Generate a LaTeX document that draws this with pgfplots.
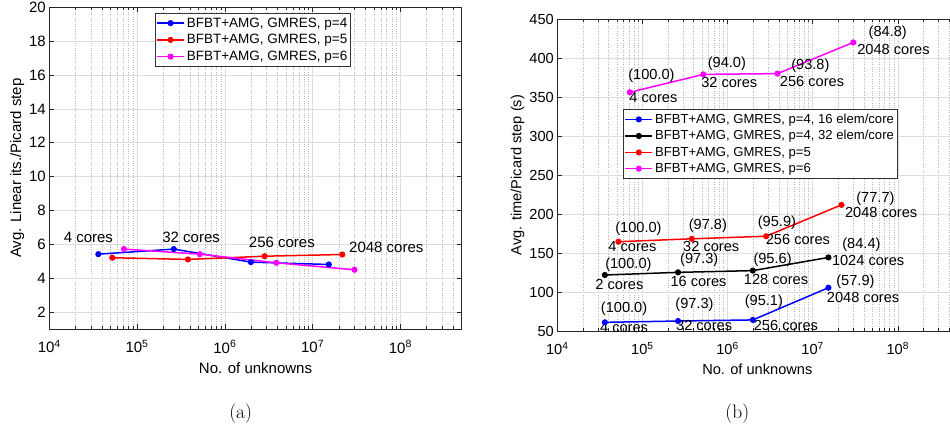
\documentclass[border=0pt]{standalone}
\usepackage{fontspec}
\usepackage{pgfplots}
\pgfplotsset{compat=1.18}
\newfontfamily\arial{Liberation Sans}
\newcommand\fA{\arial\fontsize{15}{17}\selectfont}
\newcommand\fL{\arial\fontsize{13.5}{15}\selectfont}
\newcommand\fB{\arial\fontsize{14.6}{16.5}\selectfont}
\newcommand\fLB{\arial\fontsize{13.1}{14.5}\selectfont}
\definecolor{mblue}{rgb}{0,0,1}
\definecolor{mred}{rgb}{1,0,0}
\definecolor{mmag}{rgb}{1,0,1}
\pgfplotsset{
  scale only axis,
  xmin=1e4, xmax=5e8,
  xtick={1e4,1e5,1e6,1e7,1e8},
  xticklabels={10\textsuperscript{4},10\textsuperscript{5},10\textsuperscript{6},10\textsuperscript{7},10\textsuperscript{8}},
  xticklabel style={yshift=-8pt},
  minor xtick={2e4,3e4,4e4,5e4,6e4,7e4,8e4,9e4,2e5,3e5,4e5,5e5,6e5,7e5,8e5,9e5,
    2e6,3e6,4e6,5e6,6e6,7e6,8e6,9e6,2e7,3e7,4e7,5e7,6e7,7e7,8e7,9e7,2e8,3e8,4e8},
  xmajorgrids, ymajorgrids, xminorgrids,
  major grid style={black!13, line width=0.6pt},
  minor grid style={black!28, dotted, line width=0.6pt},
  tick align=inside, major tick length=5pt, minor tick length=3pt,
  tick style={black!85, line width=0.6pt},
  axis line style={black!85, line width=0.7pt},
  clip=false,
  legend cell align=left,
  legend image code/.code={\draw[mark repeat=2,mark phase=2,#1,line width=1.5pt] plot coordinates {(0pt,0pt) (13.5pt,0pt) (27pt,0pt)};},
  every axis plot/.append style={line width=1.5pt, mark=*, mark size=2.3pt},
}
\pgfkeys{/pgf/number format/assume math mode=true}
\begin{document}
\begin{tikzpicture}
% (a) iterations
\begin{semilogxaxis}[at={(49.3pt,103pt)}, anchor=south west, width=412.4pt, height=321.7pt,
  ymin=1, ymax=20, ytick={2,4,...,20},
  tick label style={font=\fA},
  every axis x label/.style={at={(axis description cs:0.5,-0.121)}, anchor=center, font=\fA},
  xlabel={No. of unknowns},
  every axis y label/.style={at={(axis description cs:-0.078,0.5)}, rotate=90, anchor=center, font=\fA},
  ylabel={Avg. Linear its./Picard step},
  legend style={at={(0.2563,0.9823)}, anchor=north west, draw=black!80, line width=0.6pt,
    font=\fL, inner xsep=1pt, inner ysep=1.5pt, nodes={inner ysep=2.9pt, inner xsep=2pt}}]
\addplot[mblue] coordinates {(3.62e4,5.42) (2.62e5,5.72) (1.98e6,4.95) (1.53e7,4.81)};
\addplot[mred] coordinates {(5.22e4,5.21) (3.8e5,5.11) (2.84e6,5.3) (2.18e7,5.4)};
\addplot[mmag] coordinates {(7.1e4,5.72) (5.2e5,5.42) (3.86e6,4.91) (3.0e7,4.5)};
\legend{BFBT+AMG{,} GMRES{,} p=4, BFBT+AMG{,} GMRES{,} p=5, BFBT+AMG{,} GMRES{,} p=6}
\node[font=\fA] at (axis cs:2.79e4,6.43) {4 cores};
\node[font=\fA] at (axis cs:4.13e5,6.39) {32 cores};
\node[font=\fA] at (axis cs:4.47e6,6.13) {256 cores};
\node[font=\fA] at (axis cs:6.92e7,5.84) {2048 cores};
\end{semilogxaxis}
% (b) time
\begin{semilogxaxis}[at={(557.3pt,101pt)}, anchor=south west, width=400pt, height=312pt,
  ymin=50, ymax=450, ytick={50,100,...,450},
  tick label style={font=\fB},
  every axis x label/.style={at={(axis description cs:0.5,-0.122)}, anchor=center, font=\fB},
  xlabel={No. of unknowns},
  every axis y label/.style={at={(axis description cs:-0.099,0.5)}, rotate=90, anchor=center, font=\fB},
  ylabel={Avg. time/Picard step (s)},
  legend style={at={(0.165,0.7106)}, anchor=north west, draw=black!80, line width=0.6pt,
    font=\fLB, inner xsep=1pt, inner ysep=1.5pt, nodes={inner ysep=2.8pt, inner xsep=2pt}}]
\addplot[mblue] coordinates {(3.62e4,61.1) (2.62e5,62.8) (1.98e6,64.2) (1.53e7,105.5)};
\addplot[black] coordinates {(3.62e4,121.8) (2.62e5,125.2) (1.98e6,127.4) (1.53e7,144.3)};
\addplot[mred] coordinates {(5.22e4,164.5) (3.8e5,168.2) (2.84e6,171.5) (2.18e7,211.7)};
\addplot[mmag] coordinates {(7.1e4,356) (5.2e5,379) (3.86e6,380) (3.0e7,420)};
\legend{BFBT+AMG{,} GMRES{,} p=4{,} 16 elem/core, BFBT+AMG{,} GMRES{,} p=4{,} 32 elem/core,
  BFBT+AMG{,} GMRES{,} p=5, BFBT+AMG{,} GMRES{,} p=6}
% p=6
\node[font=\fB] at (axis cs:1.276e5,377.8) {(100.0)};
\node[font=\fB] at (axis cs:1.346e5,349.6) {4 cores};
\node[font=\fB] at (axis cs:9.82e5,393.2) {(94.0)};
\node[font=\fB] at (axis cs:1.047e6,369.2) {32 cores};
\node[font=\fB] at (axis cs:9.4e6,390.6) {(93.8)};
\node[font=\fB] at (axis cs:9.82e6,370.5) {256 cores};
\node[font=\fB] at (axis cs:7.62e7,432.9) {(84.8)};
\node[font=\fB] at (axis cs:8.89e7,411.5) {2048 cores};
% p=5
\node[font=\fB] at (axis cs:8.97e4,181.2) {(100.0)};
\node[font=\fB] at (axis cs:7.62e4,157.7) {4 cores};
\node[font=\fB] at (axis cs:5.87e5,185.0) {(97.8)};
\node[font=\fB] at (axis cs:6.43e5,158.9) {32 cores};
\node[font=\fB] at (axis cs:3.8e6,189.3) {(95.9)};
\node[font=\fB] at (axis cs:6.71e6,167.5) {256 cores};
\node[font=\fB] at (axis cs:5.46e7,220) {(77.7)};
\node[font=\fB] at (axis cs:6.37e7,201.7) {2048 cores};
% p=4, 32 elem/core
\node[font=\fB] at (axis cs:6.84e4,135.4) {(100.0)};
\node[font=\fB] at (axis cs:5.36e4,110.2) {2 cores};
\node[font=\fB] at (axis cs:4.65e5,140.9) {(97.3)};
\node[font=\fB] at (axis cs:4.56e5,114) {16 cores};
\node[font=\fB] at (axis cs:3.38e6,141.8) {(95.6)};
\node[font=\fB] at (axis cs:3.71e6,116.2) {128 cores};
\node[font=\fB] at (axis cs:3.74e7,160.2) {(84.4)};
\node[font=\fB] at (axis cs:4.48e7,140.9) {1024 cores};
% p=4, 16 elem/core
\node[font=\fB] at (axis cs:6.08e4,79) {(100.0)};
\node[font=\fB] at (axis cs:6.08e4,54.7) {4 cores};
\node[font=\fB] at (axis cs:4.09e5,83.3) {(97.3)};
\node[font=\fB] at (axis cs:5.31e5,57.6) {32 cores};
\node[font=\fB] at (axis cs:2.67e6,87.6) {(95.1)};
\node[font=\fB] at (axis cs:4.85e6,57.6) {256 cores};
\node[font=\fB] at (axis cs:3.18e7,113.2) {(57.9)};
\node[font=\fB] at (axis cs:3.91e7,92.7) {2048 cores};
\end{semilogxaxis}
\node[font=\fontsize{19.5}{22}\selectfont] at (240.7pt,18pt) {(a)};
\node[font=\fontsize{19.5}{22}\selectfont] at (737.3pt,18pt) {(b)};
\pgfresetboundingbox
\useasboundingbox (0,0) rectangle (950pt,432pt);
\end{tikzpicture}
\end{document}
